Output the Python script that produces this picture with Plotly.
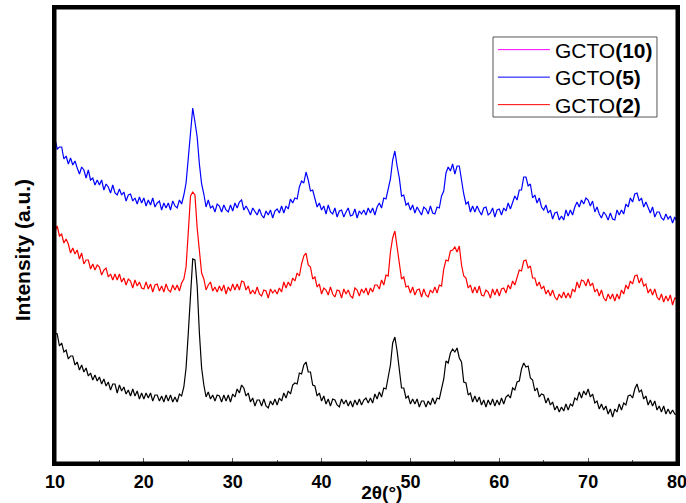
import numpy as np
import plotly.graph_objects as go

# 2-theta grid (degrees), 0.25 deg step from 10 to 80
two_theta = [round(10 + 0.25 * i, 2) for i in range(281)]

# Intensities (a.u.)
gcto_blue = [
    324,314,316,316,304,307,299,305,298,302,295,289,296,293,285,293,283,285,278,283,
    278,283,273,279,276,270,278,270,268,274,268,271,262,268,269,262,265,259,266,260,
    265,257,263,258,265,256,260,262,253,260,255,260,253,262,257,255,263,259,268,280,
    305,332,355,341,326,299,279,269,256,263,255,257,251,259,257,251,258,253,251,258,
    252,260,255,261,263,253,257,253,248,255,252,248,254,248,245,252,248,253,245,252,
    254,250,257,250,257,254,264,260,265,264,276,282,280,291,283,272,273,263,256,260,
    253,257,249,258,251,249,255,246,252,253,246,251,255,247,248,254,245,252,249,253,
    248,255,250,255,248,256,260,255,265,264,276,284,303,312,297,285,267,268,258,260,
    253,258,250,256,252,248,256,254,249,257,250,249,256,255,267,272,290,296,292,299,
    289,297,297,282,269,259,261,251,257,251,257,252,248,255,256,248,250,255,246,253,
    254,248,255,252,260,254,261,267,263,273,273,286,286,277,279,265,268,260,265,256,
    253,258,250,253,244,250,251,243,247,243,253,247,253,248,256,261,256,263,259,265,
    263,257,262,251,256,249,245,251,248,243,250,244,243,253,248,253,249,259,256,265,
    261,269,270,262,265,256,261,256,250,256,246,251,251,245,243,249,244,247,240,246,
    241,
]

gcto_red = [
    232,237,227,229,220,224,219,210,215,209,213,204,210,199,203,203,194,199,193,198,
    196,188,193,195,186,189,183,189,183,189,181,185,178,184,182,175,183,177,181,175,
    174,181,174,179,171,178,179,172,177,171,179,173,171,178,173,178,172,180,184,196,
    231,267,271,268,235,215,190,184,173,178,181,172,176,171,177,172,178,169,176,172,
    179,173,179,173,182,181,173,177,169,173,169,176,169,167,173,172,165,174,170,173,
    169,175,171,181,175,181,177,185,182,190,187,199,207,210,198,196,184,186,176,179,
    169,175,173,168,176,169,166,173,172,165,174,169,173,167,165,175,173,167,174,170,
    175,168,175,171,178,178,174,183,178,188,187,211,225,232,217,203,184,186,176,177,
    170,176,168,173,174,166,174,168,166,173,170,176,170,178,177,194,203,202,212,213,
    216,211,217,198,187,185,175,178,170,176,170,177,168,167,173,171,165,174,168,174,
    167,174,175,170,178,174,182,178,187,193,192,202,203,195,197,185,185,177,181,174,
    177,169,173,167,173,166,163,169,165,171,165,170,165,174,171,181,175,183,182,177,
    184,177,180,171,174,167,173,165,162,169,164,169,162,169,164,173,169,178,174,182,
    179,187,188,180,185,177,179,170,174,168,174,166,163,169,161,167,162,168,158,165,
    164,
]

gcto_black = [
    130,129,117,120,111,113,104,107,107,98,101,93,98,91,95,87,90,83,88,82,
    86,79,84,77,81,73,79,79,70,78,72,76,69,73,67,74,67,72,64,70,
    64,70,65,70,62,68,68,62,67,61,68,62,68,61,66,61,69,67,76,95,
    130,170,204,203,177,130,95,78,66,71,64,68,62,68,67,61,68,62,68,61,
    69,66,74,70,78,75,67,70,61,65,57,63,63,57,64,57,55,62,58,64,
    58,65,62,70,65,72,69,78,80,79,90,89,98,101,91,91,78,77,67,70,
    62,67,59,64,57,64,63,58,56,64,59,63,57,62,56,63,58,64,58,63,
    65,60,65,60,69,64,71,66,75,74,86,98,120,126,112,95,75,75,65,67,
    59,64,59,64,56,62,62,56,62,58,65,59,65,64,76,84,102,100,110,114,
    111,115,105,101,81,80,68,70,61,67,61,66,58,63,56,63,58,64,57,63,
    58,65,59,66,68,65,75,73,81,82,94,100,96,97,85,83,72,75,66,69,
    68,60,65,58,61,53,57,51,56,52,59,53,59,57,65,63,71,65,72,68,
    74,66,69,60,62,54,59,53,57,49,54,46,54,51,59,53,60,58,67,68,
    65,74,79,71,73,64,67,58,63,57,62,53,57,51,57,49,54,49,53,49,
    48,
]

legend_names = ["GCTO<b>(10)</b>", "GCTO<b>(5)</b>", "GCTO<b>(2)</b>"]
legend_colors = ["#ff00ff", "#0000ff", "#ff0000"]
x_ticks = [10, 20, 30, 40, 50, 60, 70, 80]

fig = go.Figure()
for ys, col in [(gcto_black, "#000000"), (gcto_red, "#ff0000"), (gcto_blue, "#0000ff")]:
    fig.add_trace(go.Scatter(x=two_theta, y=ys, mode="lines",
                             line=dict(color=col, width=1.2), showlegend=False,
                             hoverinfo="skip"))

# one legend per entry, stacked inside a common frame
legend_ids = ["legend", "legend2", "legend3"]
legend_rows_y = [0.9077, 0.8473, 0.7868]
for name, col, lid in zip(legend_names, legend_colors, legend_ids):
    fig.add_trace(go.Scatter(x=[None], y=[None], mode="lines", name=name,
                             legend=lid, line=dict(color=col, width=1)))

legend_style = dict(x=0.704, xanchor="left", yanchor="middle",
                    borderwidth=0, bgcolor="rgba(0,0,0,0)",
                    font=dict(size=21, family="Liberation Sans, Arial", color="black"),
                    itemwidth=52)
legends = {lid: dict(legend_style, y=ly) for lid, ly in zip(legend_ids, legend_rows_y)}

fig.update_layout(
    width=686, height=503,
    margin=dict(l=55, r=9, t=8, b=40),
    paper_bgcolor="white", plot_bgcolor="white",
    font=dict(family="Liberation Sans, Arial", color="black"),
    shapes=[
        dict(type="rect", xref="paper", yref="paper",
             x0=0.7042, x1=0.9678, y0=0.7604, y1=0.9363,
             line=dict(color="#555555", width=1), fillcolor="white", layer="above"),
        # full plot frame
        dict(type="rect", xref="paper", yref="paper", x0=0, x1=1, y0=0, y1=1,
             line=dict(color="black", width=3), fillcolor="rgba(0,0,0,0)", layer="above"),
    ],
    xaxis=dict(range=[10, 80], tickvals=x_ticks, ticks="inside", ticklen=5,
               tickwidth=1, tickcolor="#555", automargin=False,
               ticklabeloverflow="allow",
               minor=dict(dtick=5, ticks="inside", ticklen=3, tickcolor="#555"),
               showline=True, linecolor="black", linewidth=3, mirror=True,
               showgrid=False, zeroline=False,
               tickfont=dict(size=18, family="Liberation Sans, Arial", color="black", weight="bold"),
               title=dict(text="&nbsp;&nbsp;&nbsp;&nbsp;&nbsp;&nbsp;2θ(°)", standoff=2,
                          font=dict(size=19, family="Liberation Sans, Arial", weight="bold"))),
    yaxis=dict(range=[0, 455], showticklabels=False, ticks="", automargin=False,
               showline=True, linecolor="black", linewidth=3, mirror=True,
               showgrid=False, zeroline=False,
               title=dict(text="Intensity (a.u.)&nbsp;&nbsp;&nbsp;&nbsp;&nbsp;", standoff=16,
                          font=dict(size=21, family="Liberation Sans, Arial", weight="bold"))),
    **legends,
)

fig.write_html(
    "out.html",
    config={"displayModeBar": False},
    post_script=("document.body.style.margin='0';"
                 "document.body.style.overflow='hidden';"
                 "document.documentElement.style.overflow='hidden';"),
)
